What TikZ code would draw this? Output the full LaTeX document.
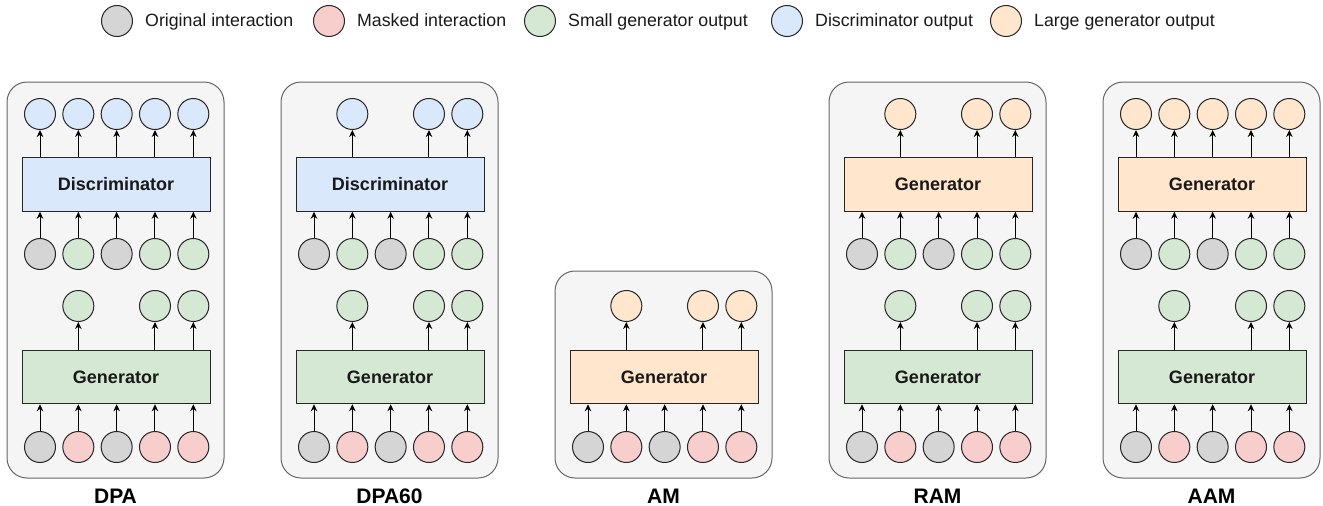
\documentclass[tikz,border=0pt]{standalone}
\usepackage{fontspec}
\setmainfont{Liberation Sans}
\usetikzlibrary{arrows.meta}
\definecolor{cgray}{HTML}{D5D5D5}
\definecolor{cpink}{HTML}{F8CECC}
\definecolor{cgreen}{HTML}{D5E8D4}
\definecolor{cblue}{HTML}{DAE8FC}
\definecolor{corange}{HTML}{FFE6CC}
\definecolor{cpanel}{HTML}{F5F5F5}
\definecolor{cpanelline}{HTML}{666666}
\definecolor{cstroke}{HTML}{262626}
\def\nocol{none}
\newcommand\outrow[5]{\foreach \cc [count=\i] in {#4}{\ifx\cc\nocol\else
  \node[circ, fill=\cc] (#1\i) at ({#2+40+38.33*(\i-1)}, #3) {};
  \draw[arr] (#5.north -| #1\i) -- (#1\i);\fi}}
\newcommand\inrow[5]{\foreach \cc [count=\i] in {#4}{\ifx\cc\nocol\else
  \node[circ, fill=\cc] (#1\i) at ({#2+40+38.33*(\i-1)}, #3) {};
  \draw[arr] (#1\i) -- (#1\i |- #5.south);\fi}}
\begin{document}
\begin{tikzpicture}[x=1pt,y=-1pt,
  circ/.style={circle, draw=cstroke, line width=1pt, minimum size=31pt, inner sep=0pt},
  blk/.style={draw=cstroke, line width=1pt, minimum width=188pt, minimum height=53.5pt, inner sep=0pt, font=\fontsize{18}{20}\selectfont\bfseries, text=black!90},
  arr/.style={-{Stealth[length=7pt,width=6.5pt]}, line width=1pt, draw=black},
  panel/.style={draw=cpanelline, fill=cpanel, line width=1pt, rounded corners=20pt},
  lab/.style={font=\fontsize{21}{24}\selectfont\bfseries, inner sep=0pt, anchor=base},
  leg/.style={font=\fontsize{17.75}{20}\selectfont, inner sep=0pt, anchor=base west, text=black!90}]
\useasboundingbox (0,0) rectangle (1323,506);
% legend
\node[circ, fill=cgray] (l1) at (117,21) {};
\node[leg] (t1) at (145,27) {Original interaction};
\node[circ, fill=cpink] (l2) at (329,21) {};
\node[leg] (t2) at (357,27) {Masked interaction};
\node[circ, fill=cgreen] (l3) at (540,21) {};
\node[leg] (t3) at (568,27) {Small generator output};
\node[circ, fill=cblue] (l4) at (787,21) {};
\node[leg] (t4) at (815,27) {Discriminator output};
\node[circ, fill=corange] (l5) at (1006,21) {};
\node[leg] (t5) at (1034,27) {Large generator output};
% DPA
\draw[panel] (7,82) rectangle (224,478);
\node[blk, fill=cblue] (d1) at (116,184.5) {Discriminator};
\outrow{pa}{0}{114}{cblue,cblue,cblue,cblue,cblue}{d1}
\inrow{pb}{0}{254}{cgray,cgreen,cgray,cgreen,cgreen}{d1}
\node[blk, fill=cgreen] (g1) at (116,377) {Generator};
\outrow{pc}{0}{306}{none,cgreen,none,cgreen,cgreen}{g1}
\inrow{pd}{0}{447}{cgray,cpink,cgray,cpink,cpink}{g1}
\node[lab] (n1) at (115.5,503) {DPA};
% DPA60
\draw[panel] (281,82) rectangle (498,478);
\node[blk, fill=cblue] (d2) at (390,184.5) {Discriminator};
\outrow{qa}{274}{114}{none,cblue,none,cblue,cblue}{d2}
\inrow{qb}{274}{254}{cgray,cgreen,cgray,cgreen,cgreen}{d2}
\node[blk, fill=cgreen] (g2) at (390,377) {Generator};
\outrow{qc}{274}{306}{none,cgreen,none,cgreen,cgreen}{g2}
\inrow{qd}{274}{447}{cgray,cpink,cgray,cpink,cpink}{g2}
\node[lab] (n2) at (389.5,503) {DPA60};
% AM
\draw[panel] (555,271) rectangle (772,478);
\node[blk, fill=corange] (g3) at (664,377) {Generator};
\outrow{rc}{548}{306}{none,corange,none,corange,corange}{g3}
\inrow{rd}{548}{447}{cgray,cpink,cgray,cpink,cpink}{g3}
\node[lab] (n3) at (663.5,503) {AM};
% RAM
\draw[panel] (829,82) rectangle (1046,478);
\node[blk, fill=corange] (d4) at (938,184.5) {Generator};
\outrow{sa}{822}{114}{none,corange,none,corange,corange}{d4}
\inrow{sb}{822}{254}{cgray,cgreen,cgray,cgreen,cgreen}{d4}
\node[blk, fill=cgreen] (g4) at (938,377) {Generator};
\outrow{sc}{822}{306}{none,cgreen,none,cgreen,cgreen}{g4}
\inrow{sd}{822}{447}{cgray,cpink,cgray,cpink,cpink}{g4}
\node[lab] (n4) at (937.5,503) {RAM};
% AAM
\draw[panel] (1103,82) rectangle (1320,478);
\node[blk, fill=corange] (d5) at (1212,184.5) {Generator};
\outrow{ua}{1096}{114}{corange,corange,corange,corange,corange}{d5}
\inrow{ub}{1096}{254}{cgray,cgreen,cgray,cgreen,cgreen}{d5}
\node[blk, fill=cgreen] (g5) at (1212,377) {Generator};
\outrow{uc}{1096}{306}{none,cgreen,none,cgreen,cgreen}{g5}
\inrow{ud}{1096}{447}{cgray,cpink,cgray,cpink,cpink}{g5}
\node[lab] (n5) at (1211.5,503) {AAM};
\end{tikzpicture}
\end{document}
